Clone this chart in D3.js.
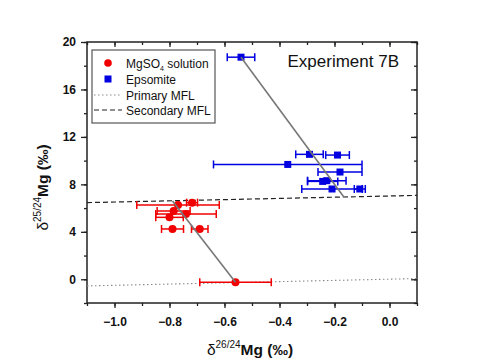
<!DOCTYPE html>
<html>
<head>
<meta charset="utf-8">
<script src="https://cdn.jsdelivr.net/npm/d3@7"></script>
<style>
  body { margin: 0; background: #fff; }
  text { font-family: "Liberation Sans", Arial, sans-serif; }
</style>
</head>
<body>
<div id="chart"></div>
<script>
// MgSO4 solution: [x, y, x error]
var solX   = [-0.769, -0.718, -0.785, -0.740, -0.800, -0.789, -0.690, -0.560];
var solY   = [6.26, 6.46, 5.75, 5.50, 5.22, 4.24, 4.24, -0.25];
var solErr = [0.15, 0.02, 0.06, 0.11, 0.05, 0.04, 0.03, 0.13];
// Epsomite
var epsX   = [-0.540, -0.291, -0.189, -0.370, -0.180, -0.243, -0.228, -0.209, -0.108];
var epsY   = [18.72, 10.53, 10.47, 9.68, 9.04, 8.25, 8.31, 7.61, 7.61];
var epsErr = [0.05, 0.05, 0.043, 0.27, 0.08, 0.055, 0.07, 0.11, 0.02];
// fractionation lines (end points)
var primaryMFL   = [[-1.1, -0.56], [0.1, 0.06]];
var secondaryMFL = [[-1.1, 6.46], [0.1, 7.07]];
var trendSol = [[-0.789, 6.6], [-0.560, -0.25]];
var trendEps = [[-0.540, 18.72], [-0.166, 6.93]];

var xTicks = [-1.0, -0.8, -0.6, -0.4, -0.2, 0.0];
var yTicks = [0, 4, 8, 12, 16, 20];

var W = 484, H = 363;
var margin = {top: 42, right: 67, bottom: 60, left: 87};
var width = W - margin.left - margin.right,
    height = H - margin.top - margin.bottom;

var svg = d3.select("#chart").append("svg")
    .attr("width", W)
    .attr("height", H);

var x = d3.scaleLinear().domain([-1.1, 0.1]).range([0, width]);
var y = d3.scaleLinear().domain([-2, 20]).range([height, 0]);

var g = svg.append("g")
    .attr("transform", "translate(" + margin.left + "," + margin.top + ")");

g.append("clipPath").attr("id", "clip")
  .append("rect").attr("width", width).attr("height", height);

var xMinor = d3.range(-1.1, 0.11, 0.1).map(function(d) { return +d.toFixed(2); });
var yMinor = d3.range(-2, 20.1, 2);

// axes: bottom / left outward, top / right inward
function styleAxis(sel) {
  sel.select(".domain").remove();
  sel.selectAll("line").attr("stroke", "#222").attr("stroke-width", 1.3);
  sel.selectAll("text")
    .style("font-size", "12px")
    .style("font-weight", "bold")
    .attr("fill", "#111");
}

g.append("g").attr("transform", "translate(0," + height + ")")
  .call(d3.axisBottom(x).tickValues(xMinor).tickSize(3).tickFormat(""))
  .call(styleAxis);
g.append("g").attr("transform", "translate(0," + height + ")")
  .call(d3.axisBottom(x).tickValues(xTicks).tickSize(5).tickPadding(9).tickFormat(d3.format(".1f")))
  .call(styleAxis);
g.append("g")
  .call(d3.axisTop(x).tickValues(xMinor).tickSize(-3).tickFormat(""))
  .call(styleAxis);
g.append("g")
  .call(d3.axisTop(x).tickValues(xTicks).tickSize(-5).tickFormat(""))
  .call(styleAxis);

g.append("g")
  .call(d3.axisLeft(y).tickValues(yMinor).tickSize(3).tickFormat(""))
  .call(styleAxis);
g.append("g")
  .call(d3.axisLeft(y).tickValues(yTicks).tickSize(6).tickPadding(5))
  .call(styleAxis);
g.append("g").attr("transform", "translate(" + width + ",0)")
  .call(d3.axisRight(y).tickValues(yMinor).tickSize(-3).tickFormat(""))
  .call(styleAxis);
g.append("g").attr("transform", "translate(" + width + ",0)")
  .call(d3.axisRight(y).tickValues(yTicks).tickSize(-6).tickFormat(""))
  .call(styleAxis);

g.append("rect")
  .attr("width", width).attr("height", height)
  .attr("fill", "none").attr("stroke", "#222").attr("stroke-width", 1.5);

var line = d3.line().x(function(d) { return x(d[0]); }).y(function(d) { return y(d[1]); });

var plot = g.append("g").attr("clip-path", "url(#clip)");

plot.append("path").attr("d", line(primaryMFL))
  .attr("fill", "none").attr("stroke", "#888").attr("stroke-width", 1.1)
  .attr("stroke-dasharray", "1.5,2.5");
plot.append("path").attr("d", line(secondaryMFL))
  .attr("fill", "none").attr("stroke", "#222").attr("stroke-width", 1.2)
  .attr("stroke-dasharray", "5,3");

function errorBars(xs, ys, es, color) {
  var cap = 4;
  var eb = plot.append("g").attr("stroke", color).attr("stroke-width", 1.5);
  xs.forEach(function(d, i) {
    var x0 = x(d - es[i]), x1 = x(d + es[i]), yy = y(ys[i]);
    eb.append("line").attr("x1", x0).attr("x2", x1).attr("y1", yy).attr("y2", yy);
    eb.append("line").attr("x1", x0).attr("x2", x0).attr("y1", yy - cap).attr("y2", yy + cap);
    eb.append("line").attr("x1", x1).attr("x2", x1).attr("y1", yy - cap).attr("y2", yy + cap);
  });
}
errorBars(solX, solY, solErr, "#f00000");
errorBars(epsX, epsY, epsErr, "#0000e0");

plot.selectAll(".sol").data(solX).enter().append("circle")
  .attr("cx", function(d) { return x(d); })
  .attr("cy", function(d, i) { return y(solY[i]); })
  .attr("r", 4)
  .attr("fill", "#f00000");

var s = 7;
plot.selectAll(".eps").data(epsX).enter().append("rect")
  .attr("x", function(d) { return x(d) - s / 2; })
  .attr("y", function(d, i) { return y(epsY[i]) - s / 2; })
  .attr("width", s).attr("height", s)
  .attr("fill", "#0000e0");

[trendSol, trendEps].forEach(function(t) {
  plot.append("path").attr("d", line(t))
    .attr("fill", "none").attr("stroke", "#777").attr("stroke-width", 1.6);
});

// legend
var lg = g.append("g").attr("transform", "translate(5,8)");
lg.append("rect").attr("width", 123).attr("height", 73)
  .attr("fill", "#fff").attr("stroke", "#555").attr("stroke-width", 1.2);
var ly = [13, 29, 45, 60];
lg.append("circle").attr("cx", 16).attr("cy", ly[0]).attr("r", 3.8).attr("fill", "#f00000");
lg.append("rect").attr("x", 12.5).attr("y", ly[1] - 3.5).attr("width", 7).attr("height", 7).attr("fill", "#0000e0");
lg.append("line").attr("x1", 2).attr("x2", 29).attr("y1", ly[2]).attr("y2", ly[2])
  .attr("stroke", "#888").attr("stroke-width", 1.1).attr("stroke-dasharray", "1.5,2.5");
lg.append("line").attr("x1", 2).attr("x2", 30).attr("y1", ly[3]).attr("y2", ly[3])
  .attr("stroke", "#222").attr("stroke-width", 1.2).attr("stroke-dasharray", "5,3");

var t0 = lg.append("text").attr("x", 34).attr("y", ly[0] + 4.5)
  .style("font-size", "12px").attr("fill", "#111");
t0.append("tspan").text("MgSO");
t0.append("tspan").attr("dy", 3).style("font-size", "7px").text("4");
t0.append("tspan").attr("dy", -3).text(" solution");
["Epsomite", "Primary MFL", "Secondary MFL"].forEach(function(l, i) {
  lg.append("text").attr("x", 34).attr("y", ly[i + 1] + 4.5)
    .style("font-size", "12px").attr("fill", "#111").text(l);
});

g.append("text").attr("x", width - 18).attr("y", 25)
  .attr("text-anchor", "end").style("font-size", "17px").attr("fill", "#111")
  .text("Experiment 7B");

// axis titles
var xt = svg.append("text").attr("x", margin.left + width / 2 - 2).attr("y", 355)
  .attr("text-anchor", "middle").style("font-size", "15.5px").style("font-weight", "bold").attr("fill", "#111");
xt.append("tspan").style("font-weight", "normal").text("δ");
xt.append("tspan").attr("dy", -7).style("font-size", "10px").style("font-weight", "normal").text("26/24");
xt.append("tspan").attr("dy", 7).text("Mg (‰)");

var yt = svg.append("text")
  .attr("transform", "translate(48," + (margin.top + height / 2 + 15) + ") rotate(-90)")
  .attr("text-anchor", "middle").style("font-size", "15.5px").style("font-weight", "bold").attr("fill", "#111");
yt.append("tspan").style("font-weight", "normal").text("δ");
yt.append("tspan").attr("dy", -7).style("font-size", "10px").style("font-weight", "normal").text("25/24");
yt.append("tspan").attr("dy", 7).text("Mg (‰)");
</script>
</body>
</html>
